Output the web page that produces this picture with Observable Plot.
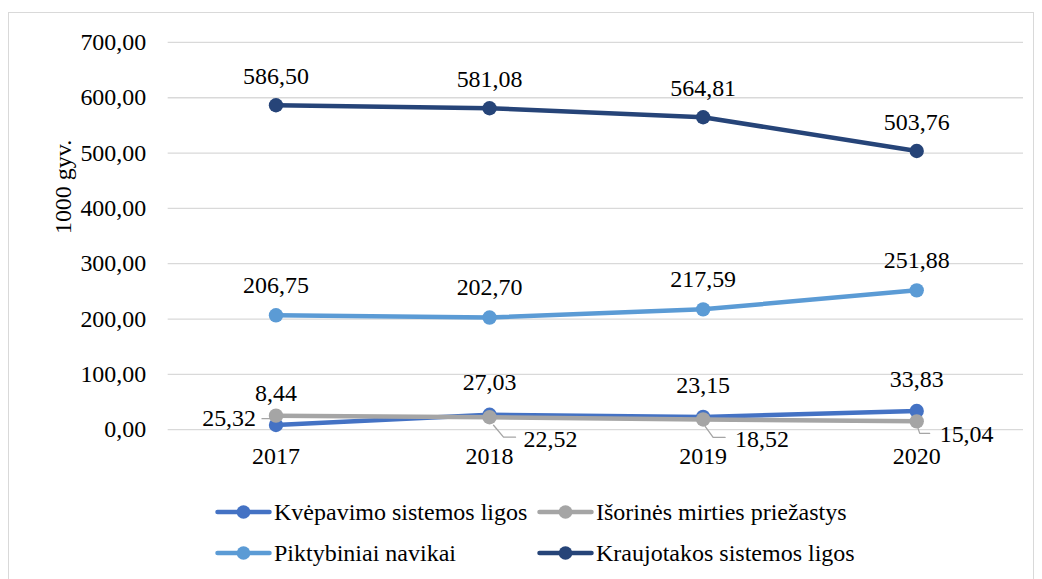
<!DOCTYPE html>
<html>
<head>
<meta charset="utf-8">
<script src="https://cdn.jsdelivr.net/npm/d3@7"></script>
<script src="https://cdn.jsdelivr.net/npm/@observablehq/plot@0.6"></script>
<style>
  html, body { margin: 0; padding: 0; background: #fff; }
  #frame { position: absolute; left: 8px; top: 12px; width: 1026px; height: 580px; border: 1px solid #d9d9d9; box-sizing: border-box; font-family: "Liberation Serif", "Times New Roman", serif; }
  #chart { position: absolute; left: 0; top: 0; }
  .legend-item { position: absolute; display: flex; align-items: center; font-size: 24px; line-height: 28px; color: #000; white-space: nowrap; }
  .legend-item svg { margin-right: 2px; }
</style>
</head>
<body>
<div id="frame">
  <div id="chart"></div>
  <div id="legend"></div>
</div>
<script>
const years = ["2017", "2018", "2019", "2020"];
const seriesNames = ["Kvėpavimo sistemos ligos", "Išorinės mirties priežastys", "Piktybiniai navikai", "Kraujotakos sistemos ligos"];
const kvepavimo = [8.44, 27.03, 23.15, 33.83];
const isorines = [25.32, 22.52, 18.52, 15.04];
const piktybiniai = [206.75, 202.70, 217.59, 251.88];
const kraujotakos = [586.50, 581.08, 564.81, 503.76];
const colors = ["#4472C4", "#A5A5A5", "#5B9BD5", "#264478"];
const yTicks = [0, 100, 200, 300, 400, 500, 600, 700];
const yLabel = "1000 gyv.";

const allValues = [kvepavimo, isorines, piktybiniai, kraujotakos];
const rows = [];
allValues.forEach((vals, si) => vals.forEach((v, i) => rows.push({series: seriesNames[si], year: years[i], value: v})));
const bySeries = name => rows.filter(d => d.series === name);

const locale = d3.formatLocale({decimal: ",", thousands: " ", grouping: [3], currency: ["", ""]});
const fmt = locale.format(".2f");

const font = "Liberation Serif, Times New Roman, serif";

function leaderShape(pts) {
  return {
    draw(context) {
      context.moveTo(pts[0][0], pts[0][1]);
      for (let k = 1; k < pts.length; k++) context.lineTo(pts[k][0], pts[k][1]);
    }
  };
}

const marks = [];
// grid
marks.push(Plot.gridY(yTicks, {stroke: "#d9d9d9", strokeOpacity: 1, strokeWidth: 1.3}));
// lines + dots in Excel series order
seriesNames.forEach((name, si) => {
  marks.push(Plot.line(bySeries(name), {x: "year", y: "value", stroke: colors[si], strokeWidth: 4.5, strokeLinejoin: "round", strokeLinecap: "round"}));
  marks.push(Plot.dot(bySeries(name), {x: "year", y: "value", r: 7.2, fill: colors[si], stroke: "none"}));
});
// labels
const labelStyle = {fontSize: 24, fontFamily: font, fill: "#000"};
marks.push(Plot.text(bySeries(seriesNames[3]), {x: "year", y: "value", text: d => fmt(d.value), dy: -29, ...labelStyle}));
marks.push(Plot.text(bySeries(seriesNames[2]), {x: "year", y: "value", text: d => fmt(d.value), dy: -30, ...labelStyle}));
marks.push(Plot.text(bySeries(seriesNames[0]), {x: "year", y: "value", text: d => fmt(d.value), dy: -32, ...labelStyle}));
const iso = bySeries(seriesNames[1]);
marks.push(Plot.text(iso.filter(d => d.year === years[0]), {x: "year", y: "value", text: d => fmt(d.value), dx: -20, dy: 3, textAnchor: "end", ...labelStyle}));
marks.push(Plot.text(iso.filter(d => d.year === years[1]), {x: "year", y: "value", text: d => fmt(d.value), dx: 34, dy: 22, textAnchor: "start", ...labelStyle}));
marks.push(Plot.text(iso.filter(d => d.year === years[2]), {x: "year", y: "value", text: d => fmt(d.value), dx: 32, dy: 20, textAnchor: "start", ...labelStyle}));
marks.push(Plot.text(iso.filter(d => d.year === years[3]), {x: "year", y: "value", text: d => fmt(d.value), dx: 23, dy: 13, textAnchor: "start", ...labelStyle}));
// leader lines for gray labels
const leaderStyle = {x: "year", y: "value", length: 1, anchor: "start", stroke: "#A5A5A5", strokeWidth: 1.3};
marks.push(Plot.vector(iso.filter(d => d.year === years[0]), {...leaderStyle, shape: leaderShape([[-14, 3], [-6, 3]])}));
marks.push(Plot.vector(iso.filter(d => d.year === years[1]), {...leaderStyle, shape: leaderShape([[4, 8], [14, 20], [26, 20]])}));
marks.push(Plot.vector(iso.filter(d => d.year === years[2]), {...leaderStyle, shape: leaderShape([[2, 7], [10, 18], [22, 18]])}));
marks.push(Plot.vector(iso.filter(d => d.year === years[3]), {...leaderStyle, shape: leaderShape([[1, 6], [3, 12], [13, 12]])}));
// axes
marks.push(Plot.axisX({tickSize: 0, tickPadding: 17, fontSize: 24, fontFamily: font, label: null}));
marks.push(Plot.axisY(yTicks, {tickSize: 0, tickPadding: 22, fontSize: 24, fontFamily: font, tickFormat: fmt, label: null}));
marks.push(Plot.text([yLabel], {frameAnchor: "left", rotate: -90, dx: -105, dy: -2, fontSize: 24, fontFamily: font, fill: "#000"}));

const chart = Plot.plot({
  width: 1026,
  height: 480,
  marginLeft: 159,
  marginRight: 10,
  marginTop: 29,
  marginBottom: 63,
  style: {fontFamily: font, background: "transparent", color: "#000", overflow: "visible"},
  x: {type: "point", domain: years, padding: 0.5},
  y: {domain: [0, 700]},
  marks
});
document.getElementById("chart").appendChild(chart);

// legend
const legendPos = [[206, 485], [528, 485], [206, 526], [528, 526]];
const legend = document.getElementById("legend");
seriesNames.forEach((name, si) => {
  const item = document.createElement("div");
  item.className = "legend-item";
  item.style.left = legendPos[si][0] + "px";
  item.style.top = legendPos[si][1] + "px";
  item.innerHTML = `<svg width="57" height="16"><line x1="2.5" y1="8" x2="54.5" y2="8" stroke="${colors[si]}" stroke-width="4.5" stroke-linecap="round"/><circle cx="28.5" cy="8" r="6.8" fill="${colors[si]}"/></svg><span>${name}</span>`;
  legend.appendChild(item);
});
</script>
</body>
</html>
